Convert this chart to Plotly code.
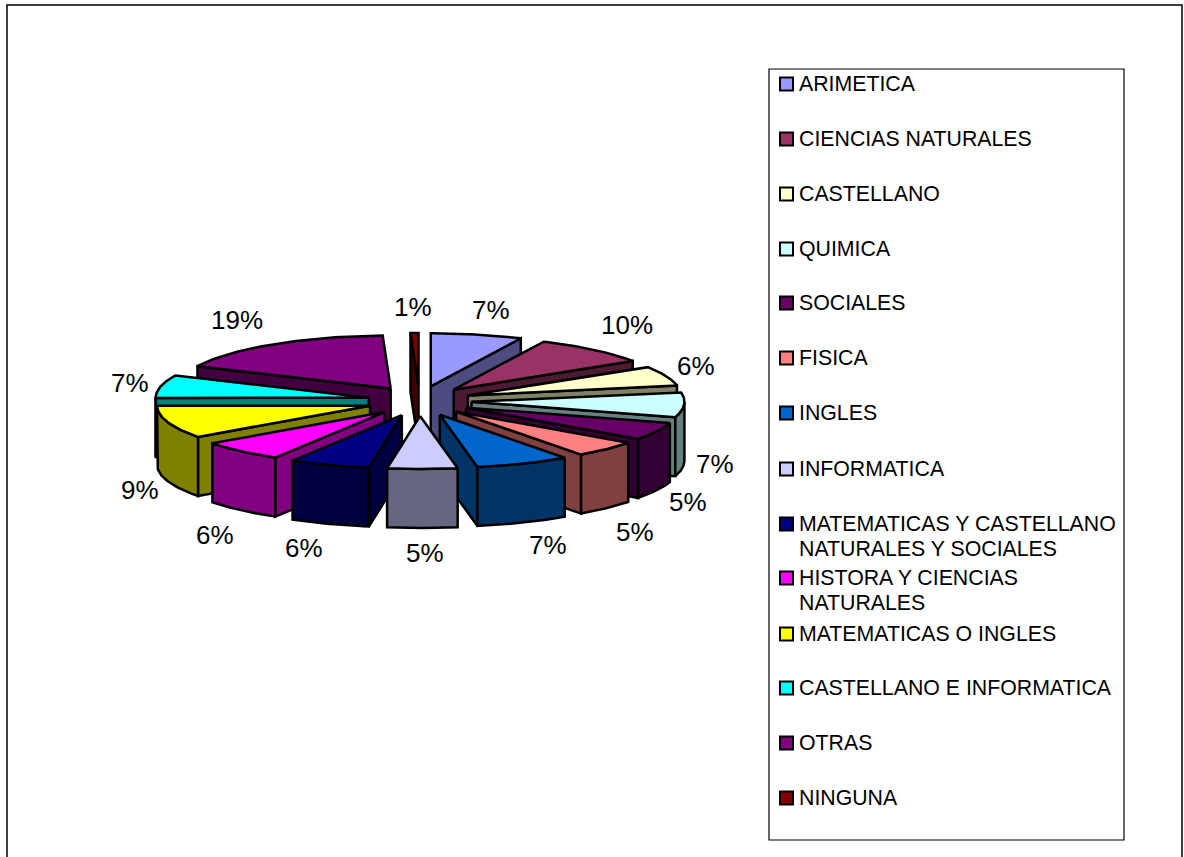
import numpy as np
import plotly.graph_objects as go

# ---- data ----
categories = ["ARIMETICA", "CIENCIAS NATURALES", "CASTELLANO", "QUIMICA", "SOCIALES", "FISICA",
              "INGLES", "INFORMATICA", "MATEMATICAS Y CASTELLANO<br>NATURALES Y SOCIALES",
              "HISTORA Y CIENCIAS<br>NATURALES", "MATEMATICAS O INGLES",
              "CASTELLANO E INFORMATICA", "OTRAS", "NINGUNA"]
# apparent share of the drawn circle, %
shares = [6.95, 8.95, 6.1, 7.7, 5.35, 5.0, 7.15, 5.3, 6.1, 6.4, 10.0, 6.95, 17.5, 0.6]
percent_labels = ["7%", "10%", "6%", "7%", "5%", "5%", "7%", "5%", "6%", "6%", "9%", "7%", "19%", "1%"]
top_colors = ["#9999FF", "#993366", "#FFFFCC", "#CCFFFF", "#660066", "#FF8080", "#0066CC",
              "#CCCCFF", "#000080", "#FF00FF", "#FFFF00", "#00FFFF", "#800080", "#800000"]

# ---- layout constants (pixels of the 1184x857 page) ----
CX, CY = 419.5, 401.0
RX, RY = 213.0, 53.0
EX, EY = 52.0, 15.0
DEPTH = 59.0
LABEL_XY = [(491, 310), (627, 325), (696, 366), (715, 464), (688, 502), (635, 532), (548, 545),
            (425, 553), (304, 548), (215, 535), (140, 490), (130, 383), (237, 320), (413, 307)]
LEGEND_Y = [84, 139, 194, 249, 303, 358, 413, 469, 524, 578, 634, 688, 743, 798]
LEGEND_LINE = 24.5
FONT = "Liberation Sans"


def darken(hex_color):
    r, g, b = (int(hex_color[i:i + 2], 16) for i in (1, 3, 5))
    return f"rgb({round(r / 2)},{round(g / 2)},{round(b / 2)})"


def poly(fig, xs, ys, fill):
    fig.add_trace(go.Scatter(x=list(xs) + [xs[0]], y=list(ys) + [ys[0]], mode="lines",
                             fill="toself", fillcolor=fill,
                             line=dict(color="black", width=2.5), hoverinfo="skip",
                             showlegend=False))


fig = go.Figure()
edges = np.concatenate([[0], np.cumsum(shares)]) / np.sum(shares) * 360.0
mids = (edges[:-1] + edges[1:]) / 2

# painter's order: farthest from the viewer first
order = sorted(range(len(shares)), key=lambda i: -np.cos(np.radians(mids[i])))
for i in order:
    a0, a1, m = edges[i], edges[i + 1], np.radians(mids[i])
    ax = CX + EX * np.sin(m)
    ay = CY - EY * np.cos(m)

    def rim(deg):
        t = np.radians(deg)
        return ax + RX * np.sin(t), ay - RY * np.cos(t)

    wall = darken(top_colors[i])
    # radial wall facing the viewer
    if a1 < 180:
        x, y = rim(a1)
        poly(fig, [ax, x, x, ax], [ay, y, y + DEPTH, ay + DEPTH], wall)
    if a0 > 180:
        x, y = rim(a0)
        poly(fig, [ax, x, x, ax], [ay, y, y + DEPTH, ay + DEPTH], wall)
    # outer wall, front half only
    lo, hi = max(a0, 90), min(a1, 270)
    if lo < hi:
        arc = np.linspace(lo, hi, 40)
        px, py = rim(arc)
        poly(fig, np.r_[px, px[::-1]], np.r_[py, py[::-1] + DEPTH], wall)
    # top face
    arc = np.linspace(a0, a1, 40)
    px, py = rim(arc)
    poly(fig, np.r_[ax, px], np.r_[ay, py], top_colors[i])

# legend swatches
fig.add_trace(go.Scatter(x=[786.5] * len(categories), y=LEGEND_Y, mode="markers",
                         marker=dict(symbol="square", size=13, color=top_colors,
                                     line=dict(color="black", width=2)),
                         hoverinfo="skip", showlegend=False))

annotations = []
for label, (x, y) in zip(percent_labels, LABEL_XY):
    annotations.append(dict(x=x, y=y, text=label, showarrow=False, xref="x", yref="y",
                            font=dict(family=FONT, size=26, color="black")))
for name, y in zip(categories, LEGEND_Y):
    for k, line in enumerate(name.split("<br>")):
        annotations.append(dict(x=797, y=y + k * LEGEND_LINE, text=line, showarrow=False,
                                xref="x", yref="y", xanchor="left",
                                font=dict(family=FONT, size=21.3, color="black")))

shapes = [
    dict(type="rect", xref="x", yref="y", x0=769, y0=69, x1=1124, y1=840,
         line=dict(color="black", width=1.2), layer="below"),
    dict(type="path", xref="x", yref="y", path="M 7 870 L 7 5 L 1182 5 L 1182 870",
         line=dict(color="black", width=1.5), layer="below"),
]

fig.update_layout(width=1184, height=857, margin=dict(l=0, r=0, t=0, b=0, autoexpand=False),
                  paper_bgcolor="white", plot_bgcolor="white", showlegend=False,
                  annotations=annotations, shapes=shapes,
                  xaxis=dict(range=[0, 1184], visible=False, fixedrange=True),
                  yaxis=dict(range=[857, 0], visible=False, fixedrange=True))
fig.write_html("out.html", config=dict(displayModeBar=False),
               post_script="document.body.style.margin='0';document.documentElement.style.overflow='hidden';")
